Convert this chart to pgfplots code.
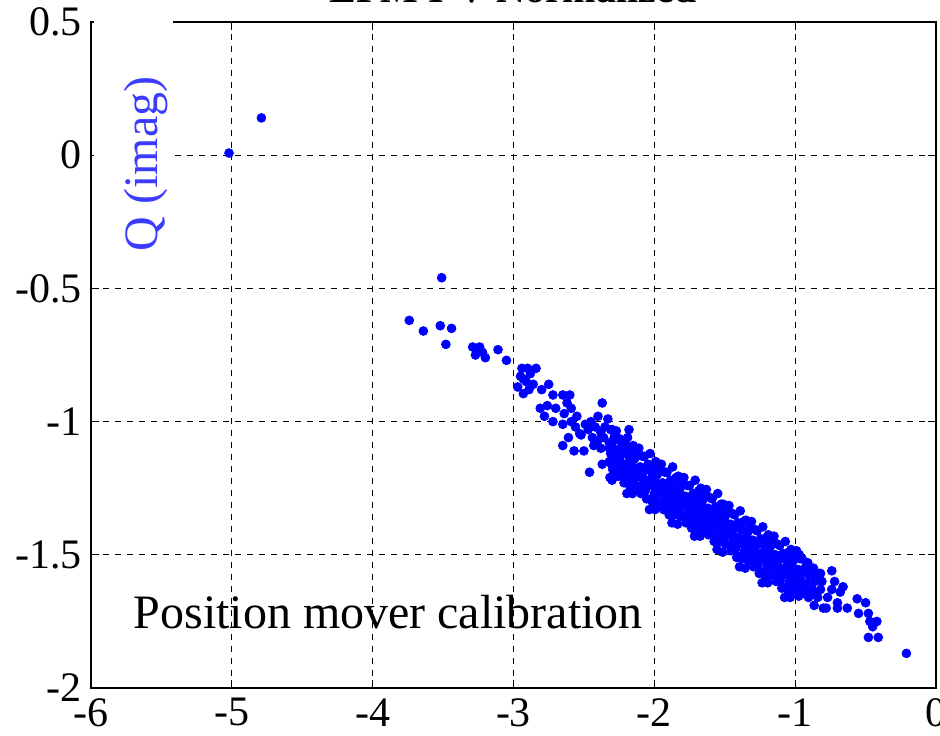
\documentclass[border=0pt]{standalone}
\usepackage{pgfplots}
\pgfplotsset{compat=1.18}
\usepackage{fontspec}
\setmainfont{Liberation Serif}
\definecolor{labelblue}{RGB}{60,60,255}
\begin{document}
\begin{tikzpicture}
\useasboundingbox (-45.5pt,-23.5pt) rectangle (424.5pt,344pt);
\clip (-45.5pt,-23.5pt) rectangle (424.5pt,344pt);
\begin{axis}[
  scale only axis, width=422.5pt, height=333pt,
  xmin=-6, xmax=0, ymin=-2, ymax=0.5,
  xtick={-6,-5,-4,-3,-2,-1,0},
  xticklabels={-6,-5,-4,-3,-2,-1,0},
  ytick={-2,-1.5,-1,-0.5,0,0.5},
  yticklabels={-2,-1.5,-1,-0.5,0,0.5},
  tick align=inside, major tick length=4pt,
  xtick pos=both, ytick pos=both,
  tick style={black, line width=0.6pt},
  axis line style={black, line width=0.8pt},
  grid=major,
  major grid style={black, dash pattern=on 3pt off 3pt, line width=0.6pt},
  ticklabel style={font=\fontsize{21}{21}\selectfont},
  xticklabel style={inner sep=0pt, yshift=-5pt},
  yticklabel style={inner sep=0pt, xshift=-4.5pt},
]
\addplot[only marks, mark=*, mark size=2.2pt, color=blue, mark options={fill=blue, draw=blue}] coordinates {
(-5.02,0.008)(-4.79,0.14)(-3.51,-0.46)
(-3.74,-0.62)(-3.64,-0.66)(-3.52,-0.64)(-3.44,-0.65)(-3.48,-0.71)
(-3.29,-0.72)(-3.25,-0.73)(-3.22,-0.74)(-3.27,-0.75)(-3.20,-0.76)(-3.24,-0.72)(-3.11,-0.73)(-3.05,-0.77)
(-2.94,-0.80)(-2.90,-0.80)(-2.84,-0.80)(-2.93,-0.84)(-2.97,-0.87)(-2.91,-0.85)(-2.88,-0.82)(-2.95,-0.83)(-2.89,-0.88)(-2.93,-0.895)
(-2.86,-0.86)(-2.75,-0.86)(-2.80,-0.88)(-2.72,-0.90)(-2.65,-0.90)(-2.60,-0.90)(-2.76,-0.94)(-2.81,-0.95)(-2.78,-0.98)(-2.72,-1.00)
(-2.64,-0.97)(-2.59,-0.95)(-2.59,-1.00)(-2.65,-1.01)(-2.37,-0.93)(-2.40,-0.98)(-2.33,-0.99)(-2.49,-1.01)(-2.53,-1.045)(-2.61,-1.06)
(-2.65,-1.09)(-2.57,-1.11)(-2.62,-0.93)(-2.70,-0.95)(-2.55,-0.98)(-2.45,-1.00)(-2.47,-1.03)(-2.42,-1.02)(-2.38,-1.04)(-2.35,-1.02)
(-2.30,-1.03)(-2.44,-1.06)(-2.40,-1.07)(-2.36,-1.06)(-2.32,-1.08)(-2.28,-1.05)(-2.25,-1.07)(-2.23,-1.10)(-2.27,-1.11)(-2.31,-1.12)
(-2.38,-1.10)(-2.43,-1.09)(-2.18,-1.03)(-2.20,-1.09)(-2.46,-1.19)(-2.37,-1.16)(-2.32,-1.15)(-2.24,-1.155)(-2.28,-1.19)(-2.19,-1.20)
(-2.30,-1.22)(-2.50,-1.11)(-2.52,-1.05)(-2.56,-1.02)
(-2.31,-1.03)(-2.285,-1.06)(-2.30,-1.08)(-2.32,-1.10)(-2.29,-1.12)(-2.28,-1.14)(-2.305,-1.16)(-2.295,-1.18)(-2.315,-1.21)
(-2.27,-1.035)(-2.245,-1.065)(-2.26,-1.105)(-2.28,-1.125)(-2.25,-1.145)(-2.24,-1.165)(-2.265,-1.185)(-2.255,-1.205)
(-2.23,-1.07)(-2.205,-1.10)(-2.22,-1.12)(-2.24,-1.15)(-2.21,-1.17)(-2.20,-1.18)(-2.225,-1.20)(-2.215,-1.23)
(-2.19,-1.06)(-2.165,-1.10)(-2.18,-1.13)(-2.20,-1.16)(-2.17,-1.18)(-2.16,-1.21)(-2.185,-1.23)(-2.175,-1.24)(-2.195,-1.27)
(-2.15,-1.09)(-2.125,-1.12)(-2.14,-1.14)(-2.16,-1.16)(-2.13,-1.18)(-2.12,-1.20)(-2.145,-1.22)(-2.135,-1.24)(-2.155,-1.27)
(-2.11,-1.10)(-2.085,-1.13)(-2.10,-1.17)(-2.12,-1.19)(-2.09,-1.21)(-2.08,-1.23)(-2.105,-1.25)(-2.095,-1.27)
(-2.07,-1.13)(-2.045,-1.16)(-2.06,-1.18)(-2.08,-1.21)(-2.05,-1.23)(-2.04,-1.24)(-2.065,-1.26)(-2.055,-1.29)
(-2.03,-1.12)(-2.005,-1.16)(-2.02,-1.19)(-2.04,-1.22)(-2.01,-1.24)(-2.00,-1.27)(-2.025,-1.29)(-2.015,-1.30)(-2.035,-1.33)
(-1.99,-1.15)(-1.965,-1.18)(-1.98,-1.20)(-2.00,-1.22)(-1.97,-1.24)(-1.96,-1.26)(-1.985,-1.28)(-1.975,-1.30)(-1.995,-1.33)
(-1.95,-1.16)(-1.925,-1.19)(-1.94,-1.23)(-1.96,-1.25)(-1.93,-1.27)(-1.92,-1.29)(-1.945,-1.31)(-1.935,-1.33)
(-1.91,-1.19)(-1.885,-1.22)(-1.90,-1.24)(-1.92,-1.27)(-1.89,-1.29)(-1.88,-1.30)(-1.905,-1.32)(-1.895,-1.35)
(-1.87,-1.17)(-1.845,-1.21)(-1.86,-1.24)(-1.88,-1.27)(-1.85,-1.29)(-1.84,-1.32)(-1.865,-1.34)(-1.855,-1.35)(-1.875,-1.38)
(-1.83,-1.205)(-1.805,-1.235)(-1.82,-1.255)(-1.84,-1.275)(-1.81,-1.295)(-1.80,-1.315)(-1.825,-1.335)(-1.815,-1.355)(-1.835,-1.385)
(-1.79,-1.21)(-1.765,-1.24)(-1.78,-1.28)(-1.80,-1.30)(-1.77,-1.32)(-1.76,-1.34)(-1.785,-1.36)(-1.775,-1.38)
(-1.75,-1.24)(-1.725,-1.27)(-1.74,-1.29)(-1.76,-1.32)(-1.73,-1.34)(-1.72,-1.35)(-1.745,-1.37)(-1.735,-1.40)
(-1.71,-1.22)(-1.685,-1.26)(-1.70,-1.29)(-1.72,-1.32)(-1.69,-1.34)(-1.68,-1.37)(-1.705,-1.39)(-1.695,-1.40)(-1.715,-1.43)
(-1.67,-1.25)(-1.645,-1.28)(-1.66,-1.30)(-1.68,-1.32)(-1.65,-1.34)(-1.64,-1.36)(-1.665,-1.38)(-1.655,-1.40)(-1.675,-1.43)
(-1.63,-1.255)(-1.605,-1.285)(-1.62,-1.325)(-1.64,-1.345)(-1.61,-1.365)(-1.60,-1.385)(-1.625,-1.405)(-1.615,-1.425)
(-1.59,-1.29)(-1.565,-1.32)(-1.58,-1.34)(-1.60,-1.37)(-1.57,-1.39)(-1.56,-1.40)(-1.585,-1.42)(-1.575,-1.45)
(-1.55,-1.27)(-1.525,-1.31)(-1.54,-1.34)(-1.56,-1.37)(-1.53,-1.39)(-1.52,-1.42)(-1.545,-1.44)(-1.535,-1.45)(-1.555,-1.48)
(-1.51,-1.31)(-1.485,-1.34)(-1.50,-1.36)(-1.52,-1.38)(-1.49,-1.40)(-1.48,-1.42)(-1.505,-1.44)(-1.495,-1.46)(-1.515,-1.49)
(-1.47,-1.315)(-1.445,-1.345)(-1.46,-1.385)(-1.48,-1.405)(-1.45,-1.425)(-1.44,-1.445)(-1.465,-1.465)(-1.455,-1.485)
(-1.43,-1.35)(-1.405,-1.38)(-1.42,-1.40)(-1.44,-1.43)(-1.41,-1.45)(-1.40,-1.46)(-1.425,-1.48)(-1.415,-1.51)
(-1.39,-1.335)(-1.365,-1.375)(-1.38,-1.405)(-1.40,-1.435)(-1.37,-1.455)(-1.36,-1.485)(-1.385,-1.505)(-1.375,-1.515)(-1.395,-1.545)
(-1.35,-1.37)(-1.325,-1.40)(-1.34,-1.42)(-1.36,-1.44)(-1.33,-1.46)(-1.32,-1.48)(-1.345,-1.50)(-1.335,-1.52)(-1.355,-1.55)
(-1.31,-1.375)(-1.285,-1.405)(-1.30,-1.445)(-1.32,-1.465)(-1.29,-1.485)(-1.28,-1.505)(-1.305,-1.525)(-1.295,-1.545)
(-1.27,-1.41)(-1.245,-1.44)(-1.26,-1.46)(-1.28,-1.49)(-1.25,-1.51)(-1.24,-1.52)(-1.265,-1.54)(-1.255,-1.57)
(-1.23,-1.395)(-1.205,-1.435)(-1.22,-1.465)(-1.24,-1.495)(-1.21,-1.515)(-1.20,-1.545)(-1.225,-1.565)(-1.215,-1.575)(-1.235,-1.605)
(-1.19,-1.425)(-1.165,-1.455)(-1.18,-1.475)(-1.20,-1.495)(-1.17,-1.515)(-1.16,-1.535)(-1.185,-1.555)(-1.175,-1.575)(-1.195,-1.605)
(-1.15,-1.43)(-1.125,-1.46)(-1.14,-1.50)(-1.16,-1.52)(-1.13,-1.54)(-1.12,-1.56)(-1.145,-1.58)(-1.135,-1.60)
(-1.11,-1.465)(-1.085,-1.495)(-1.10,-1.515)(-1.12,-1.545)(-1.09,-1.565)(-1.08,-1.575)(-1.105,-1.595)(-1.095,-1.625)
(-1.07,-1.45)(-1.045,-1.49)(-1.06,-1.52)(-1.08,-1.55)(-1.05,-1.57)(-1.04,-1.60)(-1.065,-1.62)(-1.055,-1.63)(-1.075,-1.66)
(-1.03,-1.48)(-1.005,-1.51)(-1.02,-1.53)(-1.04,-1.55)(-1.01,-1.57)(-1.00,-1.59)(-1.025,-1.61)(-1.015,-1.63)(-1.035,-1.66)
(-0.99,-1.485)(-0.965,-1.515)(-0.98,-1.555)(-1.00,-1.575)(-0.97,-1.595)(-0.96,-1.615)(-0.985,-1.635)(-0.975,-1.655)
(-0.95,-1.515)(-0.925,-1.545)(-0.94,-1.565)(-0.96,-1.595)(-0.93,-1.615)(-0.945,-1.645)
(-0.91,-1.53)(-0.885,-1.56)(-0.90,-1.58)(-0.92,-1.61)(-0.89,-1.63)(-0.905,-1.66)
(-0.87,-1.55)(-0.845,-1.58)(-0.86,-1.60)(-0.88,-1.63)(-0.85,-1.65)(-0.865,-1.69)
(-0.83,-1.57)(-0.81,-1.60)(-0.82,-1.63)(-0.84,-1.66)(-0.80,-1.70)
(-0.78,-1.70)(-0.70,-1.70)(-0.74,-1.63)(-0.68,-1.64)(-0.70,-1.68)(-0.63,-1.70)(-0.56,-1.665)(-0.50,-1.68)
(-0.55,-1.72)(-0.48,-1.72)(-0.47,-1.75)(-0.42,-1.75)(-0.45,-1.77)(-0.48,-1.81)(-0.41,-1.81)(-0.21,-1.87)
(-0.74,-1.56)(-0.82,-1.57)(-0.97,-1.50)(-0.77,-1.66)(-0.72,-1.60)(-0.66,-1.62)
};
\node[anchor=base west, font=\fontsize{24}{24}\selectfont, inner sep=0pt] at (axis cs:-5.70,-1.778) {Position mover calibration};
\end{axis}
\fill[white] (1.5pt,226.5pt) rectangle (41pt,336pt);
\node[rotate=90, anchor=base, font=\fontsize{24}{24}\selectfont, text=labelblue, inner sep=0pt] at (33pt,262pt) {Q (imag)};
\node[anchor=base, font=\bfseries\fontsize{20}{20}\selectfont, inner sep=0pt] at (211pt,342.5pt) {LPM I-V Normalized};
\end{tikzpicture}
\end{document}
